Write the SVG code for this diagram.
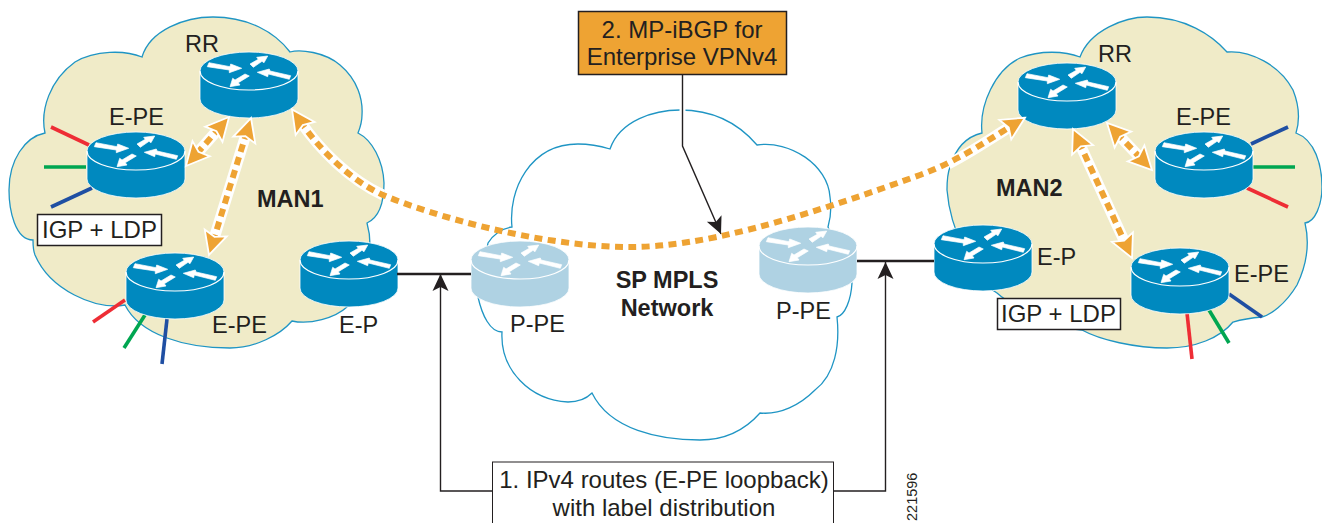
<svg xmlns="http://www.w3.org/2000/svg" width="1322" height="523" viewBox="0 0 1322 523">
<style>
text{font-family:"Liberation Sans",Arial,sans-serif;font-size:23.5px;fill:#231f20}
.big{font-size:24px}
.b{font-weight:bold}
.m{text-anchor:middle}
.cloud{stroke:#1f95c4;stroke-width:1.3}
.man{fill:#f0ebc8}
.sp{fill:#fff}
.dark{fill:#0089bf}
.light{fill:#afd2e3}
.box{stroke:#231f20;stroke-width:1.5}
.stub{fill:none;stroke-width:3.6}
.red{stroke:#ee2d35}.green{stroke:#00a651}.blue{stroke:#1f4fa3}
.halo{fill:none;stroke:#fff;stroke-width:11}
.dash{fill:none;stroke:#eea333;stroke-width:6;stroke-dasharray:8 5.5;marker-start:url(#oa);marker-end:url(#oa)}
.thin{fill:none;stroke:#231f20;stroke-width:1.4}
.thick{fill:none;stroke:#231f20;stroke-width:2.4}
</style>
<defs>
<marker id="oa" markerUnits="userSpaceOnUse" orient="auto-start-reverse" markerWidth="40" markerHeight="40" refX="20" refY="20" viewBox="0 0 40 40" overflow="visible">
<polygon points="34,20 11,8.500 15,20 11,31.500" fill="#eea333" stroke="#fff" stroke-width="1.8" stroke-linejoin="miter"/>
</marker>
<marker id="ka" markerUnits="userSpaceOnUse" orient="auto" markerWidth="24" markerHeight="24" refX="20" refY="12" viewBox="0 0 24 24">
<polygon points="20,12 3,4 7,12 3,20" fill="#231f20"/>
</marker>
<g id="router">
<path d="M0,19V47A49,19 0 0 0 98,47V19A49,19 0 0 0 0,19Z" stroke="#fff" stroke-width="0.8"/>
<path d="M0,19A49,19 0 0 0 98,19" fill="none" stroke="#fff" stroke-width="1.2"/>
<g fill="#fff" stroke="#fff" stroke-width="0.7">
<polygon points="9,10.7 30,14.7 30.7,12 41.7,16.3 29.3,20.7 29.3,18 7.3,14.7"/>
<polygon points="50,12 58.3,7.3 56.7,5.3 67.7,4 64,10.7 62,9.3 53.3,15.3"/>
<polygon points="90.7,23.7 89.3,27.3 68.3,22 67.7,24.7 57.3,20.3 69.3,17 70,19"/>
<polygon points="30,34.7 32.7,26.3 35,28 45,22 49.3,24 38.3,30.7 40,33"/>
</g>
</g>
</defs>
<rect width="1322" height="523" fill="#fff"/>

<g id="cloud-man1">
<path class="cloud man" d="M142,57C150,30 185,17 213,17C248,17 275,32 290,52C300,49 325,52 340,65C358,80 363,100 362,115C362,122 360,128 358,133C372,140 383,160 384,183C384,205 378,218 367,223C369,230 370,236 370,245L347,307C335,318 310,325 292,321C280,335 255,348 230,348C185,348 140,335 125,305C95,310 50,290 35,255C33,250 33,245 33,240C15,240 9,210 9,190C9,160 25,137 45,133C40,110 50,80 75,62C95,50 125,50 142,57Z"/>
<text x="257" y="207" class="b">MAN1</text>
</g>
<g id="cloud-man2">
<path class="cloud man" d="M1080,57C1090,30 1125,17 1147,17C1185,17 1212,35 1227,52C1250,50 1280,65 1293,90C1299,105 1300,120 1296,133C1315,140 1322,165 1322,187C1322,205 1315,222 1305,223C1309,240 1308,262 1297,285C1285,305 1270,315 1262,317C1250,318 1240,320 1233,322C1220,338 1195,348 1167,348C1135,348 1100,340 1082,330C1060,330 1010,305 997,293C975,280 950,230 947,190C947,180 948,172 950,167C955,150 965,137 982,133C979,105 995,70 1020,58C1040,50 1065,51 1080,57Z"/>
<text x="996" y="196" class="b">MAN2</text>
</g>
<g id="cloud-sp">
<path class="cloud sp" d="M680,110C715,110 740,125 757,145C790,140 828,165 830,197C832,210 830,220 828,227L852,283C851,300 845,315 837,317C840,345 835,375 815,390C800,405 780,415 760,413C745,430 725,440 700,440C660,440 610,430 592,393C585,400 575,402 568,402C530,400 500,370 502,332C490,332 482,315 478,297L488,243C495,232 505,228 512,227C508,190 530,144 578,144C590,144 600,146 610,149C620,120 655,110 680,110Z"/>
<text x="667" y="288" class="b m">SP MPLS</text>
<text x="667" y="316" class="b m">Network</text>
</g>

<g id="node-rr1"><use href="#router" x="200" y="52" class="dark"/><text x="185" y="52">RR</text></g>
<g id="node-epe1a">
<path class="stub red" d="M51,127L89,145"/><path class="stub green" d="M44,167H86"/><path class="stub blue" d="M51,207L92,188"/>
<use href="#router" x="87" y="132" class="dark"/><text x="109" y="125">E-PE</text></g>
<g id="node-epe1b">
<path class="stub red" d="M93,322L125,300"/><path class="stub green" d="M124,348L145,315"/><path class="stub blue" d="M162,364L167,319"/>
<use href="#router" x="126" y="253" class="dark"/><text x="212" y="333">E-PE</text></g>
<g id="node-ep1"><use href="#router" x="300" y="241" class="dark"/><text x="339" y="333">E-P</text></g>
<g id="node-ppe1"><use href="#router" x="471" y="241" class="light"/><text x="510" y="332">P-PE</text></g>
<g id="node-ppe2"><use href="#router" x="759" y="227" class="light"/><text x="776" y="319">P-PE</text></g>
<g id="node-ep2"><use href="#router" x="934" y="225" class="dark"/><text x="1037" y="265">E-P</text></g>
<g id="node-rr2"><use href="#router" x="1018" y="63" class="dark"/><text x="1098" y="62">RR</text></g>
<g id="node-epe2a">
<path class="stub blue" d="M1288,127L1251,144"/><path class="stub green" d="M1295,167H1253"/><path class="stub red" d="M1288,207L1247,188"/>
<use href="#router" x="1155" y="132" class="dark"/><text x="1176" y="125">E-PE</text></g>
<g id="node-epe2b">
<path class="stub blue" d="M1262,317L1229,294"/><path class="stub green" d="M1229,343L1209,310"/><path class="stub red" d="M1192,359L1187,313"/>
<use href="#router" x="1131" y="248" class="dark"/><text x="1234" y="282">E-PE</text></g>

<g id="label-igp1"><rect x="37.500" y="214.500" width="124" height="31" fill="#fff" class="box"/><text x="42" y="238" class="big">IGP + LDP</text></g>
<g id="label-igp2"><rect x="997.500" y="298.500" width="123" height="31" fill="#fff" class="box"/><text x="1001" y="322" class="big">IGP + LDP</text></g>

<g id="connectors">
<path class="thick" d="M397,274H471"/>
<path class="thick" d="M857,261H934"/>
<path class="thin" d="M493,491H440.500V274" marker-end="url(#ka)"/>
<path class="thin" d="M833,491H885.500V262" marker-end="url(#ka)"/>
<path d="M682.500,107V113" stroke="#fff" stroke-width="6" fill="none"/>
<path class="thin" d="M682.500,74V146L721,234" marker-end="url(#ka)"/>
<path class="halo" d="M219.800,127.500L195.200,155.500"/>
<path class="dash" d="M219.800,127.500L195.200,155.500"/>
<path class="halo" d="M246.900,131.400L213.100,241.600"/>
<path class="dash" d="M246.900,131.400L213.100,241.600"/>
<path class="halo" d="M1116.700,133.100L1142.300,159.900"/>
<path class="dash" d="M1116.700,133.100L1142.300,159.900"/>
<path class="halo" d="M1078.800,141.700L1126.200,245.300"/>
<path class="dash" d="M1078.800,141.700L1126.200,245.300"/>
<path class="halo" d="M300,121C320,150 350,180 383,195"/>
<path class="halo" d="M948,164C970,153 990,139 1013,125"/>
<path class="dash" d="M300,121C320,150 350,180 383,195C430,215 540,247 630,247C700,247 790,222 920,175C960,160 985,142 1013,125"/>
</g>

<g id="label-step2"><rect x="578.500" y="11.500" width="208" height="63" fill="#eea333" class="box"/>
<text x="682" y="38" class="m big">2. MP-iBGP for</text><text x="682" y="64.500" class="m big">Enterprise VPNv4</text></g>
<g id="label-step1"><rect x="492.500" y="462" width="341" height="70" fill="#fff" stroke="#231f20" stroke-width="1"/>
<text x="664" y="488" class="m big">1. IPv4 routes (E-PE loopback)</text><text x="664" y="516" class="m big">with label distribution</text></g>
<text x="917" y="521" transform="rotate(-90 917 521)" style="font-size:14.500px">221596</text>
</svg>
